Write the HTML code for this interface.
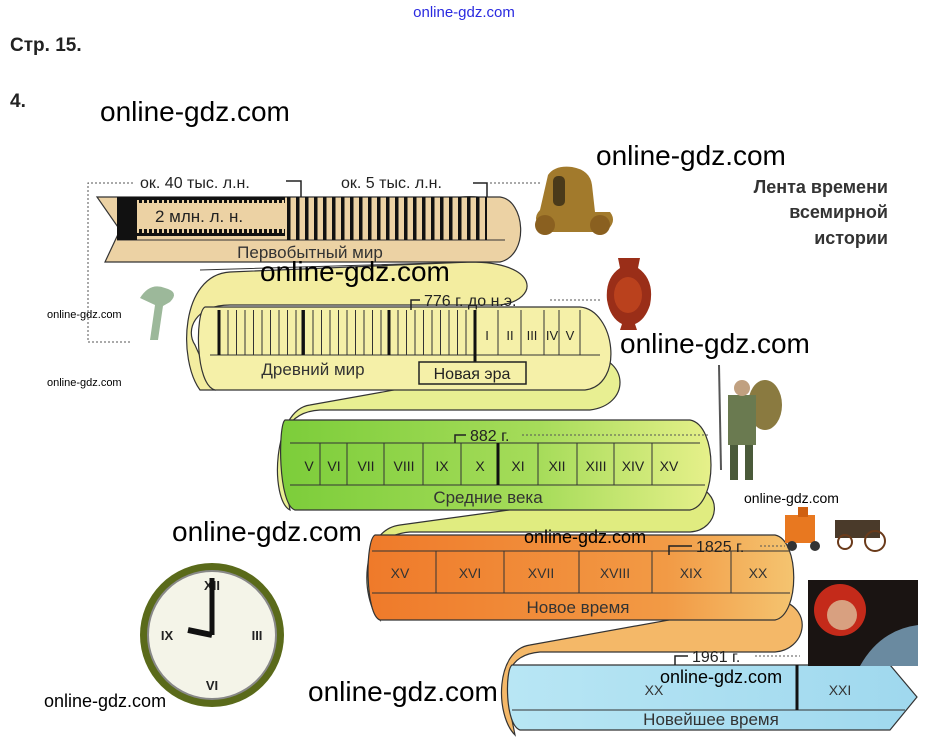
<!DOCTYPE html>
<html><head><meta charset="utf-8"><style>
html,body{margin:0;padding:0;background:#fff;}
svg{display:block;}
text{font-family:"Liberation Sans","DejaVu Sans",sans-serif;}
</style></head><body>
<svg width="928" height="751" viewBox="0 0 928 751" xmlns="http://www.w3.org/2000/svg">
<defs>
<pattern id="p1" x="287" y="0" width="9" height="10" patternUnits="userSpaceOnUse"><rect x="0" y="0" width="3.5" height="10" fill="#111"/></pattern>
<pattern id="p2" x="139" y="0" width="5" height="10" patternUnits="userSpaceOnUse"><rect x="0" y="0" width="3" height="10" fill="#111"/></pattern>
<pattern id="p3" x="219" y="0" width="8.5" height="10" patternUnits="userSpaceOnUse"><rect x="0" y="0" width="1" height="10" fill="#333"/></pattern>
<linearGradient id="gG" x1="0" x2="1"><stop offset="0" stop-color="#7ccd3a"/><stop offset="0.6" stop-color="#a6dc5a"/><stop offset="1" stop-color="#e6f08a"/></linearGradient>
<linearGradient id="gO" x1="0" x2="1"><stop offset="0" stop-color="#ef7a2a"/><stop offset="0.7" stop-color="#f29a45"/><stop offset="1" stop-color="#f4c470"/></linearGradient>
<linearGradient id="gB" x1="0" x2="1"><stop offset="0" stop-color="#b8e6f4"/><stop offset="1" stop-color="#9fd8ee"/></linearGradient>
</defs>

<text x="464" y="17" font-size="15" fill="#2a2ae0" text-anchor="middle">online-gdz.com</text>
<text x="10" y="51" font-size="19" font-weight="bold" fill="#222">Стр. 15.</text>
<text x="10" y="107" font-size="19" font-weight="bold" fill="#222">4.</text>

<text x="888" y="193" font-size="18" font-weight="bold" fill="#333" text-anchor="end">Лента времени</text>
<text x="888" y="218" font-size="18" font-weight="bold" fill="#333" text-anchor="end">всемирной</text>
<text x="888" y="244" font-size="18" font-weight="bold" fill="#333" text-anchor="end">истории</text>

<path d="M133 183 H88 V342 H130" fill="none" stroke="#555" stroke-dasharray="2 2"/>

<path d="M470 262 C540 262 540 300 500 305 L230 305 C195 305 185 330 195 345 L215 390 L200 390 C178 360 180 275 230 272 Z" fill="#f3eda0" stroke="#333" stroke-width="1.2"/>
<path d="M460 197 C530 190 540 262 470 262 L200 270" fill="none" stroke="#333" stroke-width="1"/>
<path d="M97 197 H500 C525 200 530 255 500 262 H105 L120 230 Z" fill="#ecd2a4" stroke="#333" stroke-width="1.2"/>
<line x1="117" y1="240" x2="505" y2="240" stroke="#333" stroke-width="1"/>
<rect x="117" y="197" width="20" height="43" fill="#111"/>
<rect x="137" y="197" width="148" height="6" fill="url(#p2)"/>
<rect x="137" y="229" width="148" height="6" fill="url(#p2)"/>
<rect x="137" y="197" width="148" height="3" fill="#111"/>
<rect x="137" y="233" width="148" height="3" fill="#111"/>
<rect x="287" y="197" width="200" height="43" fill="url(#p1)"/>
<text x="155" y="222" font-size="17" fill="#222">2 млн. л. н.</text>
<text x="310" y="258" font-size="17" fill="#333" text-anchor="middle">Первобытный мир</text>
<text x="140" y="188" font-size="16" fill="#222">ок. 40 тыс. л.н.</text>
<path d="M286 181 H301 V197" fill="none" stroke="#222" stroke-width="1.5"/>
<text x="341" y="188" font-size="16" fill="#222">ок. 5 тыс. л.н.</text>
<path d="M473 183 H487 V197" fill="none" stroke="#222" stroke-width="1.5"/>
<path d="M490 183 H540" stroke="#555" stroke-dasharray="2 2"/>

<path d="M590 355 C630 360 630 405 590 410 L320 410 C285 412 278 440 283 470 L290 510 C270 500 272 410 310 405 Z" fill="#e8ef92" stroke="#333" stroke-width="1.2"/>
<path d="M205 307 H580 C615 310 625 385 585 390 H215 C195 385 195 312 205 307 Z" fill="#f5f0a8" stroke="#333" stroke-width="1.2"/>
<line x1="210" y1="355" x2="600" y2="355" stroke="#333"/>
<rect x="219" y="310" width="256" height="45" fill="url(#p3)"/>
<g stroke="#111" stroke-width="3"><line x1="219" y1="310" x2="219" y2="355"/><line x1="303" y1="310" x2="303" y2="355"/><line x1="389" y1="310" x2="389" y2="355"/><line x1="475" y1="310" x2="475" y2="372"/></g>
<g stroke="#333" stroke-width="1"><line x1="498" y1="310" x2="498" y2="355"/><line x1="521" y1="310" x2="521" y2="355"/><line x1="544" y1="310" x2="544" y2="355"/><line x1="559" y1="310" x2="559" y2="355"/><line x1="580" y1="310" x2="580" y2="355"/></g>
<g font-size="13" fill="#222" text-anchor="middle"><text x="487" y="340">I</text><text x="510" y="340">II</text><text x="532" y="340">III</text><text x="552" y="340">IV</text><text x="570" y="340">V</text></g>
<text x="313" y="375" font-size="17" fill="#333" text-anchor="middle">Древний мир</text>
<rect x="419" y="362" width="107" height="22" fill="#f5f0a8" stroke="#222" stroke-width="1.5"/>
<text x="472" y="379" font-size="16" fill="#222" text-anchor="middle">Новая эра</text>
<text x="424" y="306" font-size="16" fill="#222">776 г. до н.э.</text>
<path d="M420 300 H411 V310" fill="none" stroke="#222" stroke-width="1.5"/>
<path d="M550 300 H600" stroke="#555" stroke-dasharray="2 2"/>

<path d="M690 485 C725 490 720 530 690 532 L410 532 C375 535 368 560 372 590 L380 620 C360 600 360 530 400 525 Z" fill="#e0ec80" stroke="#333" stroke-width="1.2"/>
<path d="M285 420 H690 C718 425 718 505 690 510 H295 C278 505 278 425 285 420 Z" fill="url(#gG)" stroke="#333" stroke-width="1.2"/>
<line x1="290" y1="443" x2="700" y2="443" stroke="#333"/>
<line x1="290" y1="485" x2="705" y2="485" stroke="#333"/>
<g stroke="#333"><line x1="320" y1="443" x2="320" y2="485"/><line x1="347" y1="443" x2="347" y2="485"/><line x1="384" y1="443" x2="384" y2="485"/><line x1="423" y1="443" x2="423" y2="485"/><line x1="461" y1="443" x2="461" y2="485"/><line x1="538" y1="443" x2="538" y2="485"/><line x1="577" y1="443" x2="577" y2="485"/><line x1="614" y1="443" x2="614" y2="485"/><line x1="652" y1="443" x2="652" y2="485"/></g>
<line x1="498" y1="443" x2="498" y2="485" stroke="#111" stroke-width="3"/>
<g font-size="14" fill="#222" text-anchor="middle"><text x="309" y="471">V</text><text x="334" y="471">VI</text><text x="366" y="471">VII</text><text x="404" y="471">VIII</text><text x="442" y="471">IX</text><text x="480" y="471">X</text><text x="518" y="471">XI</text><text x="557" y="471">XII</text><text x="596" y="471">XIII</text><text x="633" y="471">XIV</text><text x="669" y="471">XV</text></g>
<text x="488" y="503" font-size="17" fill="#333" text-anchor="middle">Средние века</text>
<text x="470" y="441" font-size="16" fill="#222">882 г.</text>
<path d="M466 435 H455 V443" fill="none" stroke="#222" stroke-width="1.5"/>
<path d="M522 435 H710" stroke="#555" stroke-dasharray="2 2"/>

<path d="M780 600 C815 610 805 650 775 652 L540 652 C505 655 505 680 510 710 L515 735 C495 715 495 650 530 645 Z" fill="#f4b868" stroke="#333" stroke-width="1.2"/>
<path d="M375 535 H775 C800 540 800 615 775 620 H380 C365 615 365 540 375 535 Z" fill="url(#gO)" stroke="#333" stroke-width="1.2"/>
<line x1="372" y1="551" x2="790" y2="551" stroke="#333"/>
<line x1="372" y1="593" x2="790" y2="593" stroke="#333"/>
<g stroke="#333"><line x1="436" y1="551" x2="436" y2="593"/><line x1="504" y1="551" x2="504" y2="593"/><line x1="579" y1="551" x2="579" y2="593"/><line x1="652" y1="551" x2="652" y2="593"/><line x1="731" y1="551" x2="731" y2="593"/></g>
<g font-size="14" fill="#333" text-anchor="middle"><text x="400" y="578">XV</text><text x="470" y="578">XVI</text><text x="541" y="578">XVII</text><text x="615" y="578">XVIII</text><text x="691" y="578">XIX</text><text x="758" y="578">XX</text></g>
<text x="578" y="613" font-size="17" fill="#333" text-anchor="middle">Новое время</text>
<text x="696" y="552" font-size="16" fill="#222">1825 г.</text>
<path d="M692 546 H669 V555" fill="none" stroke="#222" stroke-width="1.5"/>
<path d="M760 546 H785" stroke="#555" stroke-dasharray="2 2"/>

<path d="M512 665 H890 L917 697 L890 730 H520 C505 725 505 670 512 665 Z" fill="url(#gB)" stroke="#333" stroke-width="1.2"/>
<line x1="512" y1="710" x2="905" y2="710" stroke="#333"/>
<line x1="797" y1="665" x2="797" y2="710" stroke="#111" stroke-width="3"/>
<text x="654" y="695" font-size="14" fill="#333" text-anchor="middle">XX</text>
<text x="840" y="695" font-size="14" fill="#333" text-anchor="middle">XXI</text>
<text x="711" y="725" font-size="17" fill="#333" text-anchor="middle">Новейшее время</text>
<text x="692" y="662" font-size="16" fill="#222">1961 г.</text>
<path d="M688 656 H675 V665" fill="none" stroke="#222" stroke-width="1.5"/>
<path d="M755 656 H800" stroke="#555" stroke-dasharray="2 2"/>

<g><path d="M548 175 Q555 165 572 167 Q590 170 592 185 L595 212 L610 212 Q618 222 605 232 L545 232 Q530 220 540 210 Z" fill="#a27a2c"/><rect x="553" y="176" width="12" height="30" rx="5" fill="#4a3a1a"/><circle cx="545" cy="225" r="10" fill="#8a6020"/><circle cx="600" cy="225" r="10" fill="#8a6020"/></g>
<g><path d="M618 258 H640 L638 268 Q655 280 650 305 Q645 320 635 324 L637 330 H620 L622 324 Q610 318 607 300 Q605 278 620 268 Z" fill="#9a2e18"/><ellipse cx="628" cy="295" rx="14" ry="18" fill="#c84a20" opacity="0.7"/></g>
<g><path d="M140 298 Q150 282 165 288 Q180 292 170 302 L163 306 L158 340 L150 340 L155 305 Z" fill="#9cb89a"/></g>
<g><ellipse cx="765" cy="405" rx="17" ry="25" fill="#8a7a40"/><rect x="728" y="395" width="28" height="50" fill="#6a7a50"/><circle cx="742" cy="388" r="8" fill="#c0a080"/><rect x="730" y="445" width="8" height="35" fill="#4a5a3a"/><rect x="745" y="445" width="8" height="35" fill="#4a5a3a"/><line x1="719" y1="365" x2="721" y2="470" stroke="#555" stroke-width="2"/></g>
<g><rect x="785" y="515" width="30" height="28" fill="#e87820"/><rect x="798" y="507" width="10" height="10" fill="#d06010"/><circle cx="792" cy="546" r="5" fill="#333"/><circle cx="815" cy="546" r="5" fill="#333"/><rect x="835" y="520" width="45" height="18" fill="#4a3a2a"/><circle cx="845" cy="542" r="7" fill="none" stroke="#6a3a1a" stroke-width="2"/><circle cx="875" cy="541" r="10" fill="none" stroke="#6a3a1a" stroke-width="2"/></g>
<g><rect x="808" y="580" width="110" height="86" fill="#1a1412"/><circle cx="840" cy="610" r="26" fill="#c42a1a"/><circle cx="842" cy="615" r="15" fill="#d8a080"/><path d="M860 666 Q880 630 918 625 V666 Z" fill="#6a8aa0"/></g>
<g><circle cx="212" cy="635" r="72" fill="#5a6a1a"/><circle cx="212" cy="635" r="64" fill="#f4f4e8" stroke="#888" stroke-width="2"/>
<g font-size="13" font-weight="bold" fill="#222" text-anchor="middle"><text x="212" y="590">XII</text><text x="212" y="690">VI</text><text x="257" y="640">III</text><text x="167" y="640">IX</text></g>
<line x1="212" y1="635" x2="212" y2="578" stroke="#111" stroke-width="5"/><line x1="212" y1="635" x2="188" y2="630" stroke="#111" stroke-width="6"/></g>

<g fill="#000">
<text x="100" y="121" font-size="28">online-gdz.com</text>
<text x="596" y="165" font-size="28">online-gdz.com</text>
<text x="260" y="281" font-size="28">online-gdz.com</text>
<text x="620" y="353" font-size="28">online-gdz.com</text>
<text x="172" y="541" font-size="28">online-gdz.com</text>
<text x="308" y="701" font-size="28">online-gdz.com</text>
<text x="47" y="318" font-size="11">online-gdz.com</text>
<text x="47" y="386" font-size="11">online-gdz.com</text>
<text x="744" y="503" font-size="14">online-gdz.com</text>
<text x="524" y="543" font-size="18">online-gdz.com</text>
<text x="660" y="683" font-size="18">online-gdz.com</text>
<text x="44" y="707" font-size="18">online-gdz.com</text>
</g>
</svg>
</body></html>
